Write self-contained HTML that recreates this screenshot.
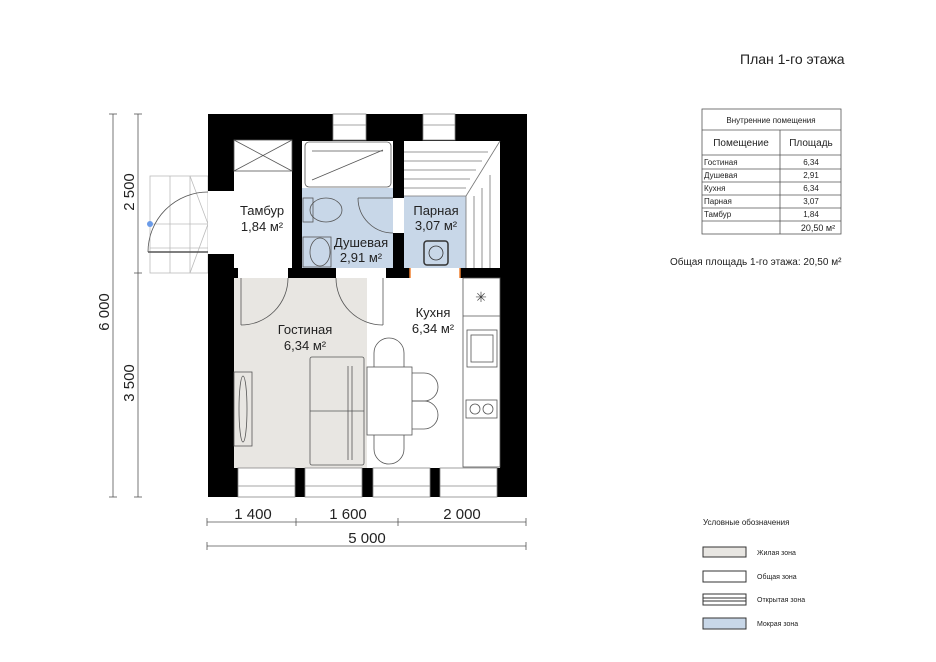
<!DOCTYPE html><html><head><meta charset="utf-8"><style>
body{margin:0;background:#fff}
svg{display:block;font-family:"Liberation Sans","DejaVu Sans",sans-serif}
</style></head><body>
<svg width="936" height="662" viewBox="0 0 936 662" xmlns="http://www.w3.org/2000/svg">
<rect width="936" height="662" fill="#fff"/>
<!-- stairs -->
<g stroke="#bbb" stroke-width="0.8" fill="none">
<rect x="150" y="176" width="58" height="97"/>
<line x1="170" y1="176" x2="170" y2="273"/><line x1="190" y1="176" x2="190" y2="273"/>
<line x1="150" y1="224" x2="208" y2="224"/><line x1="150" y1="248" x2="208" y2="248"/>
<line x1="190" y1="176" x2="208" y2="224"/><line x1="208" y1="224" x2="190" y2="273"/>
</g>
<path d="M208 192 A60 60 0 0 0 148 252" stroke="#555" fill="none" stroke-width="0.8"/>
<line x1="148" y1="252" x2="208" y2="252" stroke="#555" stroke-width="1.5"/>
<circle cx="150" cy="224" r="3" fill="#6a9be8"/>
<!-- outer walls -->
<rect x="208" y="114" width="319" height="383" fill="#000"/>
<!-- rooms -->
<rect x="234" y="140" width="58" height="128" fill="#fff"/>
<rect x="302" y="141" width="91" height="127" fill="#c8d7e8"/>
<rect x="302" y="141" width="91" height="47" fill="#fff"/>
<rect x="404" y="141" width="96" height="127" fill="#fff"/>
<rect x="404" y="196" width="62" height="72" fill="#c8d7e8"/>
<rect x="234" y="278" width="133" height="190" fill="#e8e6e2"/>
<rect x="367" y="278" width="133" height="190" fill="#fff"/>
<!-- door openings -->
<rect x="208" y="191" width="26" height="63" fill="#fff"/>
<rect x="238" y="268" width="50" height="10" fill="#fff"/>
<rect x="336" y="268" width="50" height="10" fill="#fff"/>
<rect x="393" y="198" width="11" height="35" fill="#fff"/>
<rect x="410" y="268" width="50" height="10" fill="#fff"/>
<line x1="410" y1="268" x2="410" y2="278" stroke="#f08030" stroke-width="1.5"/>
<line x1="460" y1="268" x2="460" y2="278" stroke="#f08030" stroke-width="1.5"/>
<!-- windows -->
<g fill="#fff" stroke="#888" stroke-width="0.8">
<rect x="333" y="114" width="33" height="26"/><rect x="423" y="114" width="32" height="26"/>
<rect x="238" y="468" width="57" height="29"/><rect x="305" y="468" width="57" height="29"/>
<rect x="373" y="468" width="57" height="29"/><rect x="440" y="468" width="57" height="29"/>
</g>
<g stroke="#888" stroke-width="0.8">
<line x1="333" y1="125" x2="366" y2="125"/><line x1="423" y1="125" x2="455" y2="125"/>
<line x1="238" y1="486" x2="295" y2="486"/><line x1="305" y1="486" x2="362" y2="486"/>
<line x1="373" y1="486" x2="430" y2="486"/><line x1="440" y1="486" x2="497" y2="486"/>
</g>
<g stroke="#555" stroke-width="0.8" fill="none">
<rect x="234" y="140" width="58" height="31"/><line x1="234" y1="140" x2="292" y2="171"/><line x1="292" y1="140" x2="234" y2="171"/>
<rect x="305" y="142" width="86" height="45" rx="4"/>
<line x1="312" y1="151" x2="383" y2="151"/><line x1="312" y1="180" x2="383" y2="150"/>
<rect x="303" y="198" width="10" height="24"/><ellipse cx="326" cy="210" rx="16" ry="12"/>
<rect x="303" y="237" width="28" height="30"/><ellipse cx="320" cy="252" rx="10" ry="14"/>
<path d="M358 198 A35 35 0 0 0 393 233" /><line x1="358" y1="198" x2="393" y2="198"/>
<path d="M288 278 A47 47 0 0 1 241 325"/><line x1="241" y1="278" x2="241" y2="325"/>
<path d="M336 278 A47 47 0 0 0 383 325"/><line x1="383" y1="278" x2="383" y2="325"/>
</g>
<!-- sauna benches -->
<g stroke="#777" stroke-width="0.8" fill="none">
<line x1="404" y1="152" x2="488" y2="152"/><line x1="404" y1="161" x2="482" y2="161"/>
<line x1="404" y1="170" x2="476" y2="170"/><line x1="404" y1="179" x2="470" y2="179"/><line x1="404" y1="188" x2="466" y2="188"/>
<polyline points="404,196 466,196 466,268"/>
<line x1="474" y1="196" x2="474" y2="268"/><line x1="482" y1="188" x2="482" y2="268"/><line x1="490" y1="175" x2="490" y2="268"/>
<line x1="466" y1="196" x2="500" y2="141"/>
</g>
<g stroke="#333" fill="none">
<rect x="424" y="241" width="24" height="24" rx="3" stroke-width="1.5"/>
<circle cx="436" cy="253" r="7" stroke-width="0.8"/>
</g>
<g stroke="#555" stroke-width="0.8" fill="none">
<rect x="310" y="357" width="54" height="108" rx="2"/><line x1="348" y1="366" x2="348" y2="460"/><line x1="352" y1="366" x2="352" y2="460"/><line x1="310" y1="411" x2="364" y2="411"/>
<rect x="234" y="372" width="18" height="74"/><ellipse cx="243" cy="409" rx="4" ry="33"/>
<rect x="367" y="367" width="45" height="68" fill="#fff"/>
<path d="M374 367 v-14 a15 15 0 0 1 30 0 v14"/><path d="M374 435 v14 a15 15 0 0 0 30 0 v-14"/>
<path d="M412 373 h12 a14 14 0 0 1 0 28 h-12"/><path d="M412 401 h12 a14 14 0 0 1 0 28 h-12"/>
<rect x="463" y="278" width="37" height="189"/><line x1="463" y1="316" x2="500" y2="316"/>
<rect x="467" y="330" width="30" height="37"/><rect x="471" y="335" width="22" height="27"/>
<rect x="466" y="400" width="31" height="18"/><circle cx="475" cy="409" r="5"/><circle cx="488" cy="409" r="5"/>
</g>
<text x="481" y="302" font-size="14" text-anchor="middle" fill="#444">✳</text>
<g font-size="13" fill="#222" text-anchor="middle">
<text x="262" y="215">Тамбур</text><text x="262" y="231">1,84 м²</text>
<text x="361" y="247">Душевая</text><text x="361" y="262">2,91 м²</text>
<text x="436" y="215">Парная</text><text x="436" y="230">3,07 м²</text>
<text x="433" y="317">Кухня</text><text x="433" y="333">6,34 м²</text>
<text x="305" y="334">Гостиная</text><text x="305" y="350">6,34 м²</text>
</g>
<g stroke="#555" stroke-width="0.8">
<line x1="113" y1="114" x2="113" y2="497"/><line x1="138" y1="114" x2="138" y2="497"/>
<line x1="109" y1="114" x2="117" y2="114"/><line x1="109" y1="497" x2="117" y2="497"/>
<line x1="134" y1="114" x2="142" y2="114"/><line x1="134" y1="273" x2="142" y2="273"/><line x1="134" y1="497" x2="142" y2="497"/>
<line x1="207" y1="522" x2="526" y2="522"/><line x1="207" y1="546" x2="526" y2="546"/>
<line x1="207" y1="518" x2="207" y2="526"/><line x1="296" y1="518" x2="296" y2="526"/><line x1="398" y1="518" x2="398" y2="526"/><line x1="526" y1="518" x2="526" y2="526"/>
<line x1="207" y1="542" x2="207" y2="550"/><line x1="526" y1="542" x2="526" y2="550"/>
</g>
<g font-size="15" fill="#222" text-anchor="middle">
<text transform="translate(109,312) rotate(-90)">6 000</text>
<text transform="translate(134,192) rotate(-90)">2 500</text>
<text transform="translate(134,383) rotate(-90)">3 500</text>
<text x="253" y="519">1 400</text><text x="348" y="519">1 600</text><text x="462" y="519">2 000</text>
<text x="367" y="543">5 000</text>
</g>
<text x="740" y="64" font-size="14" fill="#222">План 1-го этажа</text>
<g stroke="#555" stroke-width="0.8" fill="none">
<rect x="702" y="109" width="139" height="125"/>
<line x1="702" y1="130" x2="841" y2="130"/><line x1="702" y1="155" x2="841" y2="155"/>
<line x1="702" y1="169" x2="841" y2="169"/><line x1="702" y1="182" x2="841" y2="182"/>
<line x1="702" y1="195" x2="841" y2="195"/><line x1="702" y1="208" x2="841" y2="208"/>
<line x1="702" y1="221" x2="841" y2="221"/><line x1="780" y1="130" x2="780" y2="234"/>
</g>
<g font-size="8" fill="#222">
<text x="771" y="123" text-anchor="middle">Внутренние помещения</text>
<text x="741" y="146" font-size="10" text-anchor="middle">Помещение</text>
<text x="811" y="146" font-size="10" text-anchor="middle">Площадь</text>
<text x="704" y="165">Гостиная</text><text x="704" y="178">Душевая</text><text x="704" y="191">Кухня</text>
<text x="704" y="204">Парная</text><text x="704" y="217">Тамбур</text>
<g text-anchor="middle"><text x="811" y="165">6,34</text><text x="811" y="178">2,91</text><text x="811" y="191">6,34</text>
<text x="811" y="204">3,07</text><text x="811" y="217">1,84</text><text x="818" y="231" font-size="9">20,50 м²</text></g>
</g>
<text x="670" y="265" font-size="10" fill="#222">Общая площадь 1-го этажа:  20,50 м²</text>
<text x="703" y="525" font-size="8" fill="#222">Условные обозначения</text>
<g stroke="#333" stroke-width="1">
<rect x="703" y="547" width="43" height="10" fill="#e8e6e2"/>
<rect x="703" y="571" width="43" height="11" fill="#fff"/>
<rect x="703" y="594" width="43" height="11" fill="#fff"/>
<line x1="703" y1="598" x2="746" y2="598"/><line x1="703" y1="601" x2="746" y2="601"/>
<rect x="703" y="618" width="43" height="11" fill="#c8d7e8"/>
</g>
<g font-size="7" fill="#222">
<text x="757" y="555">Жилая зона</text><text x="757" y="579">Общая зона</text>
<text x="757" y="602">Открытая зона</text><text x="757" y="626">Мокрая зона</text>
</g>
</svg>
</body></html>
